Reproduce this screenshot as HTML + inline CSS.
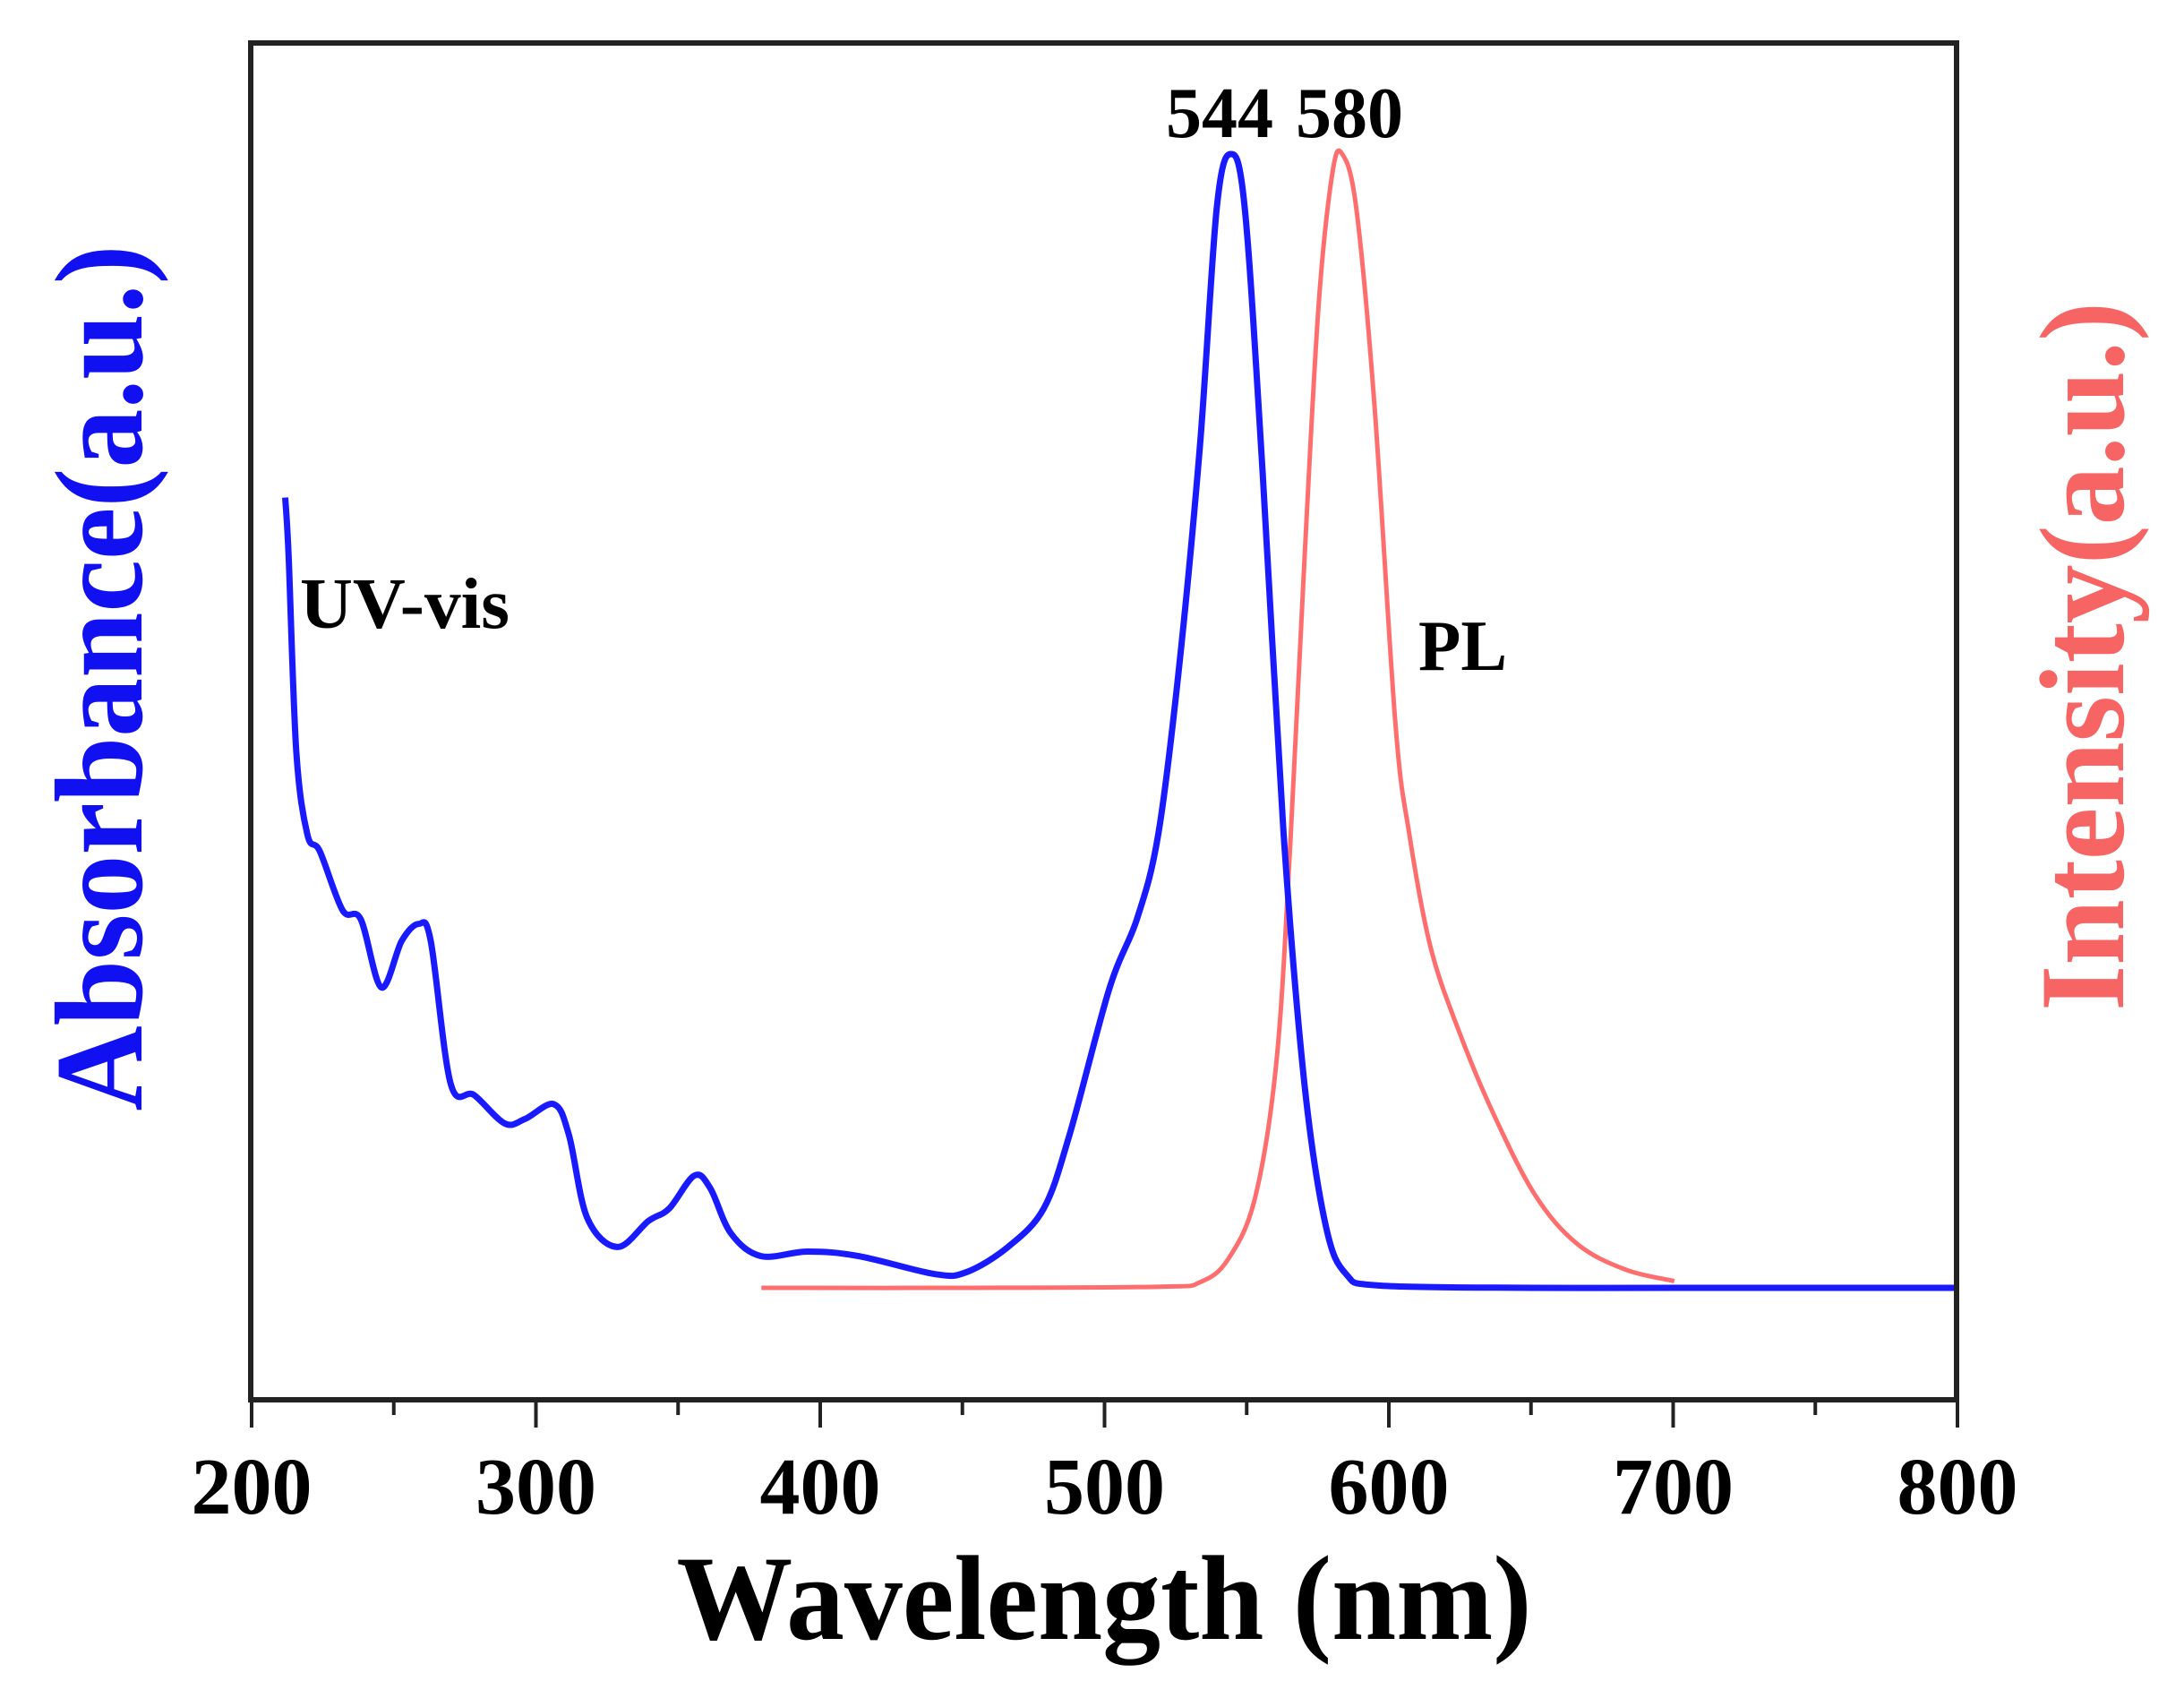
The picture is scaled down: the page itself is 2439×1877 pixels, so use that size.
<!DOCTYPE html>
<html><head><meta charset="utf-8"><style>
html,body{margin:0;padding:0;background:#fff;}
svg{display:block;}
text{font-family:"Liberation Serif","DejaVu Serif",serif;font-weight:bold;}
</style></head><body>
<svg id="chart" width="2439" height="1877" viewBox="0 0 2439 1877" xmlns="http://www.w3.org/2000/svg">
<g id="plot"></g>
<rect x="280" y="48" width="1905" height="1515" fill="none" stroke="#222" stroke-width="6"/>
<g id="xaxis"></g>
<text x="1233" y="1830" font-size="135" text-anchor="middle" textLength="955" lengthAdjust="spacingAndGlyphs">Wavelength (nm)</text>
<text transform="translate(158,757) rotate(-90)" font-size="140" fill="#1010f0" text-anchor="middle" textLength="967" lengthAdjust="spacingAndGlyphs">Absorbance(a.u.)</text>
<text transform="translate(2371,733) rotate(-90)" font-size="135" fill="#f66464" text-anchor="middle" textLength="792" lengthAdjust="spacingAndGlyphs">Intensity(a.u.)</text>
<text x="335" y="701" font-size="80" textLength="234" lengthAdjust="spacingAndGlyphs">UV-vis</text>
<text x="1584" y="748" font-size="80" textLength="99" lengthAdjust="spacingAndGlyphs">PL</text>
<text x="1362" y="153" font-size="80" text-anchor="middle">544</text>
<text x="1507" y="153" font-size="80" text-anchor="middle">580</text>
</svg>
<script>
const xTicks=[200,300,400,500,600,700,800];
const xMinorTicks=[250,350,450,550,650,750];
const uvWavelength=[211.8,213,215.7,219.6,224,232,238.4,245.6,252.8,258.8,263,270,278.3,289,296.2,306.3,311.6,318,328.6,339.6,346.9,355.7,361.3,368.6,379.2,395.6,413.5,440.6,451.6,466,478.6,487.7,501.7,511.5,518.9,526.2,533.6,539.5,544.4,549.3,555.6,563,570.4,577.8,585,597,651,700,800];
const uvAbsorbance=[0.697,0.646,0.474,0.40,0.385,0.333,0.325,0.265,0.306,0.321,0.306,0.18,0.170,0.145,0.149,0.162,0.135,0.062,0.036,0.059,0.070,0.099,0.088,0.048,0.028,0.032,0.028,0.012,0.014,0.036,0.070,0.135,0.264,0.326,0.40,0.547,0.744,0.953,1.0,0.953,0.72,0.40,0.178,0.055,0.012,0.002,0,0,0];
const plWavelength=[379.3,450,520,533.6,543.4,553,560.6,565.5,570.4,575.3,580.2,583.6,588.5,594.9,602.3,607.2,614.6,624.4,636.7,651.4,666.1,683.3,700.4];
const plIntensity=[0,0,0.001,0.005,0.025,0.08,0.203,0.40,0.646,0.867,0.984,1.0,0.953,0.78,0.498,0.40,0.301,0.228,0.154,0.082,0.039,0.016,0.006];

const X0=281,X1=2186,Y0=1438,Y1=172;
function xs(v){return X0+(v-200)/600*(X1-X0);}
function ys(v){return Y0-v*(Y0-Y1);}
const NS='http://www.w3.org/2000/svg';
function pathFrom(xa,ya){
  const p=xa.map((x,i)=>[xs(x),ys(ya[i])]);
  let d='M'+p[0][0].toFixed(1)+','+p[0][1].toFixed(1);
  for(let i=0;i<p.length-1;i++){
    const a=p[i-1]||p[i],b=p[i],c=p[i+1],e=p[i+2]||c;
    const c1x=b[0]+(c[0]-a[0])/6,c1y=b[1]+(c[1]-a[1])/6;
    const c2x=c[0]-(e[0]-b[0])/6,c2y=c[1]-(e[1]-b[1])/6;
    d+=' C'+c1x.toFixed(1)+','+c1y.toFixed(1)+' '+c2x.toFixed(1)+','+c2y.toFixed(1)+' '+c[0].toFixed(1)+','+c[1].toFixed(1);
  }
  return d;
}
const plot=document.getElementById('plot');
const pl=document.createElementNS(NS,'path');


pl.setAttribute('d',pathFrom(plWavelength,plIntensity));
pl.setAttribute('fill','none');pl.setAttribute('stroke','#ff6e6e');pl.setAttribute('stroke-width','5');pl.setAttribute('stroke-linejoin','round');
plot.appendChild(pl);
const uv=document.createElementNS(NS,'path');


uv.setAttribute('d',pathFrom(uvWavelength,uvAbsorbance));
uv.setAttribute('fill','none');uv.setAttribute('stroke','#1a1aff');uv.setAttribute('stroke-width','7');uv.setAttribute('stroke-linejoin','round');
plot.appendChild(uv);

const xa=document.getElementById('xaxis');
xTicks.forEach(t=>{
  const l=document.createElementNS(NS,'line');
  
  
  l.setAttribute('x1',xs(t));l.setAttribute('x2',xs(t));l.setAttribute('y1',1563);l.setAttribute('y2',1594);
  l.setAttribute('stroke','#222');l.setAttribute('stroke-width','4');
  xa.appendChild(l);
  const tx=document.createElementNS(NS,'text');
  
  
  tx.setAttribute('x',xs(t));tx.setAttribute('y',1690);tx.setAttribute('font-size','90');tx.setAttribute('text-anchor','middle');
  tx.textContent=String(t);
  xa.appendChild(tx);
});
xMinorTicks.forEach(t=>{
  const l=document.createElementNS(NS,'line');
  
  
  l.setAttribute('x1',xs(t));l.setAttribute('x2',xs(t));l.setAttribute('y1',1563);l.setAttribute('y2',1580);
  l.setAttribute('stroke','#222');l.setAttribute('stroke-width','4');
  xa.appendChild(l);
});
</script>
</body></html>
